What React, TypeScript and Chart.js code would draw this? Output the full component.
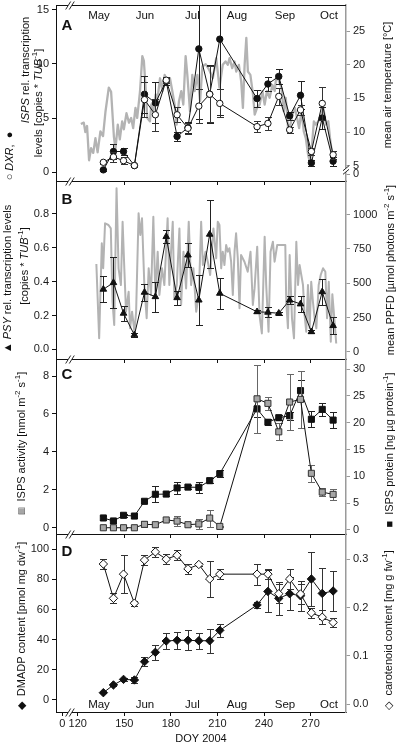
import React, { useEffect, useRef } from 'react';
import { Chart, registerables } from 'chart.js';

Chart.register(...registerables);

const FONT = '"Liberation Sans", Arial, Helvetica, sans-serif';
const INK = '#111111';
const GREY_AXIS = '#9a9a9a';
const GREY_LINE = '#b3b3b3';
const GREY_FILL = '#a6a6a6';

// ---------- x axis ----------
const X_MIN = 106;
const X_MAX = 292.8;
const X_ZERO = 110; // where the "0" label sits, before the axis break
const X_BREAK = 115;
const X_TICKS_FULL = [110, 120, 150, 180, 210, 240, 270];
const X_TICKS_INNER = [150, 180, 210, 240, 270];
const MONTHS = ['May', 'Jun', 'Jul', 'Aug', 'Sep', 'Oct'];
const MONTH_DOY = [133.7, 163.3, 193.9, 222.6, 253.5, 281.8];

// ---------- sampling days ----------
const SAMPLE_DOY = [136.5, 143, 149.5, 156.5, 163, 170, 177, 184, 191, 198, 205, 211.5, 235.5, 242.5, 249.5, 256.5, 263.5, 270.5, 277.5, 284.5];

// ---------- panel A ----------
const ISPS_TX = [0.2, 1.9, 1.9, 0.6, 7.2, 6.4, 8.4, 3.3, 4.1, 11.4, 7.2, 12.3, 6.8, 8.15, 8.85, 5.2, 7.1, 0.85, 5.0, 1.0];
const ISPS_TX_ERR = [0.1, 0.65, 0.3, 0.1, 1.7, 1.9, 0.3, 0.4, 0.5, 6.5, 2.7, 7.0, 0.8, 0.65, 0.7, 0.4, 1.3, 0.25, 1.0, 0.4];
const DXR_TX = [0.9, 1.4, 1.05, 0.6, 6.7, 5.3, 8.5, 5.3, 4.05, 6.1, 7.2, 6.35, 4.2, 4.5, 7.0, 3.9, 5.75, 1.9, 6.35, 1.6];
const DXR_TX_ERR = [0.15, 0.45, 0.3, 0.1, 1.6, 1.5, 0.25, 0.7, 0.5, 1.6, 2.6, 1.3, 0.5, 0.6, 0.8, 0.3, 0.5, 0.3, 1.5, 0.35];
const TEMP_DOY = [122, 123.9, 124.9, 126, 127.3, 128.6, 130, 131.4, 132.8, 134.6, 136.3, 137.9, 140, 141.5, 143.3, 144.3, 145.8, 147.1, 148.6, 149.7, 151.4, 153, 154.4, 155.7, 157.2, 158.3, 160.1, 161.6, 162.6, 163.7, 164.8, 166.5, 167.4, 168.7, 170.2, 171.3, 173, 174.5, 176, 177.7, 179.4, 180.9, 182.4, 183.7, 185.2, 186.7, 188, 189.5, 190.6, 192.3, 193.8, 195.3, 197.1, 198.8, 200.3, 202.4, 204.6, 207, 209.2, 211.3, 213.4, 215.2, 216.7, 217.8, 219.5, 221, 222.1, 223.8, 225.3, 226.4, 227.5, 228.6, 229.6, 231.2, 232.9, 234, 235.5, 237.2, 238.9, 240.4, 241.9, 243.6, 245.4, 246.9, 248, 249.7, 251.2, 252.7, 254, 255.5, 257, 258.3, 259.8, 261.3, 262.6, 264.1, 265.6, 266.9, 268.4, 269.5, 270.6, 272.1, 273.4, 274.9, 276.4, 278.2, 279.9, 281.4, 282.5, 283.6, 284.6];
const TEMP_C = [11.2, 11.4, 10.0, 10.9, 5.8, 7.6, 6.9, 9.1, 7.0, 10.1, 9.4, 13.1, 16.6, 16.0, 9.3, 7.5, 11.1, 8.9, 11.6, 10.4, 12.8, 11.4, 12.1, 10.6, 13.6, 12.1, 16.0, 21.3, 20.6, 16.6, 12.1, 11.6, 14.1, 13.1, 15.6, 14.8, 18.0, 16.1, 18.5, 17.5, 18.0, 16.1, 14.1, 11.1, 14.6, 16.1, 14.1, 21.3, 18.5, 13.1, 18.5, 16.1, 18.5, 14.6, 19.8, 20.1, 19.3, 18.0, 21.0, 16.6, 20.0, 20.5, 20.0, 21.0, 19.5, 20.5, 19.0, 20.0, 17.5, 13.6, 20.0, 24.0, 19.0, 18.5, 15.6, 12.6, 13.6, 14.1, 16.1, 14.1, 16.1, 15.1, 17.0, 16.1, 18.5, 17.5, 16.6, 13.1, 15.1, 10.6, 11.1, 12.6, 13.6, 12.1, 10.6, 13.1, 10.1, 9.1, 6.6, 5.6, 7.1, 11.6, 11.1, 11.6, 12.1, 13.6, 11.1, 11.6, 9.1, 7.1, 5.8];

// ---------- panel B ----------
const PSY_TX = [0.355, 0.394, 0.213, 0.085, 0.337, 0.311, 0.666, 0.305, 0.557, 0.291, 0.68, 0.331, 0.222, 0.219, 0.213, 0.291, 0.268, 0.104, 0.34, 0.14];
const PSY_TX_ERR = [0.078, 0.15, 0.044, 0.01, 0.05, 0.09, 0.04, 0.04, 0.07, 0.15, 0.2, 0.09, 0.01, 0.03, 0.01, 0.025, 0.05, 0.01, 0.075, 0.05];
const PPFD_DOY = [132, 133.8, 135.5, 136.4, 137.6, 139.8, 141.3, 142.4, 143.5, 145, 146.3, 147.8, 148.9, 150, 151.1, 152.8, 153.7, 155, 156.5, 157.6, 159.2, 160.3, 161.4, 162.9, 164.4, 165.7, 167.2, 168.7, 170, 171.5, 172.6, 174.3, 175.8, 177.9, 179, 180.1, 181.2, 182.2, 183.8, 185.5, 186.6, 188.1, 189.8, 191.5, 193, 194.5, 196.3, 198, 199.5, 200.6, 202.3, 203.8, 205.3, 207.4, 209.2, 210.2, 211.3, 212.4, 213.4, 214.5, 215.6, 216.7, 217.7, 218.8, 219.9, 221, 222, 223.1, 224.2, 225.2, 227.4, 229.5, 231.3, 232.8, 233.9, 235.6, 237.1, 238.6, 240.4, 241.4, 242.9, 244.2, 245.7, 246.8, 248.5, 250, 252.2, 253.7, 254.3, 255.4, 256.5, 258, 259.3, 260.8, 261.9, 262.9, 264, 265.1, 266.1, 267.2, 268.3, 269.4, 270.4, 271.5, 272.6, 273.7, 275.2, 276.5, 278, 279.5, 280.6, 281.7, 283, 284, 285.2, 286.5];
const PPFD = [640, 98, 791, 609, 937, 925, 900, 365, 195, 1193, 609, 487, 949, 609, 292, 438, 171, 292, 146, 292, 1010, 852, 974, 487, 244, 609, 414, 985, 414, 730, 414, 609, 487, 974, 487, 730, 949, 390, 487, 900, 341, 730, 462, 949, 487, 609, 292, 414, 949, 633, 730, 657, 560, 900, 682, 949, 925, 609, 730, 633, 779, 730, 755, 657, 414, 730, 864, 682, 317, 706, 657, 584, 730, 341, 462, 767, 268, 134, 839, 487, 146, 730, 803, 657, 779, 779, 779, 779, 365, 171, 706, 244, 98, 803, 487, 633, 560, 487, 268, 146, 487, 171, 511, 365, 244, 171, 487, 560, 609, 584, 244, 511, 73, 420, 255, 60];

// ---------- panel C ----------
const ISPS_ACT = [0, 0, 0, 0, 0.18, 0.16, 0.41, 0.35, 0.16, 0.2, 0.51, 0.07, 6.8, 6.56, 5.06, 6.63, 6.77, 2.87, 1.88, 1.76];
const ISPS_ACT_ERR = [0.03, 0.03, 0.03, 0.03, 0.15, 0.05, 0.05, 0.25, 0.05, 0.25, 0.45, 0.03, 1.78, 0.35, 0.45, 1.5, 1.5, 0.45, 0.2, 0.3];
const ISPS_PROT = [2.24, 1.68, 2.74, 2.6, 5.35, 6.66, 6.7, 7.84, 8.0, 7.95, 9.2, 10.5, 22.6, 20.1, 20.95, 21.3, 26.0, 20.65, 22.5, 20.5];
const ISPS_PROT_ERR = [0.3, 0.3, 0.3, 0.3, 0.4, 1.5, 0.3, 1.2, 0.3, 1.0, 0.5, 0.7, 1.5, 0.6, 0.5, 0.8, 2.0, 1.5, 1.2, 1.5];

// ---------- panel D ----------
const DMADP = [4.65, 9.8, 13.5, 13.1, 25.3, 31.5, 39, 39.5, 39.5, 39.2, 39.2, 46.1, 63, 72, 67.4, 70.5, 69.1, 80.3, 70.7, 72.3];
const DMADP_ERR = [0.5, 0.8, 1.0, 2.2, 3.1, 4.8, 5.6, 5.6, 6.6, 5.4, 8, 4.2, 1.8, 14, 11, 11, 10, 18, 17, 13];
const CAROT = [0.29, 0.219, 0.269, 0.209, 0.298, 0.315, 0.3, 0.308, 0.28, 0.289, 0.259, 0.269, 0.269, 0.269, 0.2285, 0.259, 0.228, 0.189, 0.18, 0.169];
const CAROT_ERR = [0.01, 0.01, 0.039, 0.005, 0.01, 0.01, 0.01, 0.01, 0.01, 0.003, 0.037, 0.01, 0.022, 0.01, 0.02, 0.02, 0.02, 0.01, 0.015, 0.01];

// ---------- axis ranges / ticks ----------
const A_LEFT = { min: -0.83, max: 15.46, ticks: [0, 5, 10, 15] };
const A_RIGHT = { min: 2.72, max: 28.9, ticks: [3.72, 5, 10, 15, 20, 25] };
const B_LEFT = { min: -0.057, max: 0.995, ticks: [0, 0.2, 0.4, 0.6, 0.8] };
const B_RIGHT = { min: -53, max: 1246, ticks: [0, 250, 500, 750, 1000] };
const C_LEFT = { min: -0.33, max: 8.9, ticks: [0, 2, 4, 6, 8] };
const C_RIGHT = { min: -0.75, max: 31.9, ticks: [0, 5, 10, 15, 20, 25, 30] };
const D_LEFT = { min: -8.2, max: 110.2, ticks: [0, 20, 40, 60, 80, 100] };
const D_RIGHT = { min: -0.016, max: 0.352, ticks: [0, 0.1, 0.2, 0.3] };

const W = 400;
const H = 744;
const LEFT_W = 56;
const RIGHT_W = 54;

type Seg = { t: string; it?: boolean; sup?: boolean; color?: string; outline?: string };

function richText(ctx: CanvasRenderingContext2D, segs: Seg[], cx: number, cy: number, size: number, vertical: boolean) {
  ctx.save();
  ctx.translate(cx, cy);
  if (vertical) ctx.rotate(-Math.PI / 2);
  ctx.textBaseline = 'middle';
  ctx.textAlign = 'left';
  const fontOf = (s: Seg) => `${s.it ? 'italic ' : ''}${s.sup ? Math.round(size * 0.75) : size}px ${FONT}`;
  const ws = segs.map((s) => {
    ctx.font = fontOf(s);
    return ctx.measureText(s.t).width;
  });
  const total = ws.reduce((a, b) => a + b, 0);
  let x = -total / 2;
  segs.forEach((s, i) => {
    ctx.font = fontOf(s);
    const y = s.sup ? -size * 0.38 : 0;
    ctx.fillStyle = s.color || INK;
    ctx.fillText(s.t, x, y);
    if (s.outline) {
      ctx.fillStyle = INK;
      ctx.fillText(s.outline, x, y);
    }
    x += ws[i];
  });
  ctx.restore();
}

function breakMark(ctx: CanvasRenderingContext2D, x: number, y: number, vertical = false) {
  ctx.save();
  ctx.fillStyle = '#ffffff';
  if (vertical) ctx.fillRect(x - 2, y - 2, 4, 4);
  else ctx.fillRect(x - 2, y - 1.5, 4, 3);
  ctx.strokeStyle = INK;
  ctx.lineWidth = 0.9;
  const offs = [-1.8, 1.8];
  offs.forEach((d) => {
    ctx.beginPath();
    if (vertical) {
      ctx.moveTo(x - 3, y + d + 2.5);
      ctx.lineTo(x + 3, y + d - 2.5);
    } else {
      ctx.moveTo(x + d - 2.5, y + 4);
      ctx.lineTo(x + d + 2.5, y - 4);
    }
    ctx.stroke();
  });
  ctx.restore();
}

function panelLetter(ctx: CanvasRenderingContext2D, letter: string, x: number, y: number) {
  ctx.save();
  ctx.font = `bold 15px ${FONT}`;
  ctx.fillStyle = INK;
  ctx.textAlign = 'center';
  ctx.textBaseline = 'middle';
  ctx.fillText(letter, x, y);
  ctx.restore();
}

function monthLabels(ctx: CanvasRenderingContext2D, chart: any, y: number) {
  const xs = chart.scales.x;
  ctx.save();
  ctx.font = `11.5px ${FONT}`;
  ctx.fillStyle = INK;
  ctx.textAlign = 'center';
  ctx.textBaseline = 'middle';
  MONTHS.forEach((m, i) => ctx.fillText(m, xs.getPixelForValue(MONTH_DOY[i]), y));
  ctx.restore();
}

const pts = (xs: number[], ys: number[]) => xs.map((x, i) => ({ x, y: ys[i] }));

const errorBarPlugin = {
  id: 'errorBars',
  beforeDatasetDraw(chart: any, args: any) {
    const ds = chart.data.datasets[args.index];
    if (!ds.errors) return;
    const meta = args.meta;
    const ys = chart.scales[meta.yAxisID];
    const xs = chart.scales[meta.xAxisID];
    const ctx = chart.ctx as CanvasRenderingContext2D;
    const a = chart.chartArea;
    ctx.save();
    ctx.beginPath();
    ctx.rect(a.left, a.top, a.right - a.left, a.bottom - a.top);
    ctx.clip();
    ctx.strokeStyle = ds.errorColor || '#333';
    ctx.lineWidth = 1;
    ds.data.forEach((p: any, k: number) => {
      const e = ds.errors[k];
      if (!e) return;
      const x = Math.round(xs.getPixelForValue(p.x)) + 0.5;
      const y1 = Math.round(ys.getPixelForValue(p.y + e)) + 0.5;
      const y2 = Math.round(ys.getPixelForValue(p.y - e)) + 0.5;
      ctx.beginPath();
      ctx.moveTo(x, y1);
      ctx.lineTo(x, y2);
      ctx.moveTo(x - 3.5, y1);
      ctx.lineTo(x + 3.5, y1);
      ctx.moveTo(x - 3.5, y2);
      ctx.lineTo(x + 3.5, y2);
      ctx.stroke();
    });
    ctx.restore();
  },
};

function xScale(labels: boolean) {
  return {
    type: 'linear',
    position: 'bottom',
    min: X_MIN,
    max: X_MAX,
    afterBuildTicks: (s: any) => {
      s.ticks = (labels ? X_TICKS_FULL : X_TICKS_INNER).map((v) => ({ value: v }));
    },
    afterFit: (s: any) => {
      s.height = labels ? 32 : 0;
      s.paddingLeft = 0;
      s.paddingRight = 0;
    },
    grid: { drawOnChartArea: false, drawTicks: true, tickLength: 4, color: INK, lineWidth: 1 },
    border: { display: true, color: INK, width: 1 },
    ticks: {
      display: labels,
      autoSkip: false,
      maxRotation: 0,
      padding: 1,
      color: '#1a1a1a',
      font: { family: FONT, size: 11 },
      callback: (v: number) => (v === X_ZERO ? '0' : String(v)),
    },
  };
}

function yScale(side: 'left' | 'right', r: { min: number; max: number; ticks: number[] }, fmt: (v: number) => string) {
  const left = side === 'left';
  return {
    type: 'linear',
    position: side,
    min: r.min,
    max: r.max,
    afterBuildTicks: (s: any) => {
      s.ticks = r.ticks.map((v) => ({ value: v }));
    },
    afterFit: (s: any) => {
      s.width = left ? LEFT_W : RIGHT_W;
      s.paddingTop = 0;
      s.paddingBottom = 0;
    },
    grid: { drawOnChartArea: false, drawTicks: true, tickLength: 4, color: left ? INK : GREY_AXIS, lineWidth: 1 },
    border: { display: true, color: left ? INK : GREY_AXIS, width: left ? 1 : 1.5 },
    ticks: {
      autoSkip: false,
      padding: 3,
      color: '#1a1a1a',
      font: { family: FONT, size: 11 },
      callback: (v: number) => fmt(v),
    },
  };
}

type PanelSpec = {
  top: number;
  bottom: number;
  xLabels: boolean;
  left: any;
  right: any;
  datasets: any[];
  decorate: (ctx: CanvasRenderingContext2D, chart: any) => void;
};

function buildConfig(p: PanelSpec): any {
  const xh = p.xLabels ? 32 : 0;
  return {
    type: 'line',
    data: { datasets: p.datasets },
    options: {
      responsive: false,
      maintainAspectRatio: false,
      devicePixelRatio: 1,
      animation: false,
      events: [],
      layout: { autoPadding: false, padding: { top: p.top, bottom: H - p.bottom - xh, left: 0, right: 0 } },
      plugins: { legend: { display: false }, tooltip: { enabled: false }, title: { display: false } },
      elements: { line: { tension: 0 } },
      scales: { x: xScale(p.xLabels), yL: p.left, yR: p.right },
    },
    plugins: [
      errorBarPlugin,
      { id: 'decor', afterDraw: (chart: any) => p.decorate(chart.ctx, chart) },
    ],
  };
}

const seriesStyle = (fill: string, style: string, radius: number, stroke = INK) => ({
  borderColor: INK,
  borderWidth: 1,
  pointStyle: style,
  pointRadius: radius,
  pointBackgroundColor: fill,
  pointBorderColor: stroke,
  pointBorderWidth: 1,
  fill: false,
});

const int = (v: number) => String(Math.round(v));
const one = (v: number) => v.toFixed(1);

const PANELS: PanelSpec[] = [
  {
    top: 5,
    bottom: 181,
    xLabels: false,
    left: yScale('left', A_LEFT, int),
    right: yScale('right', A_RIGHT, (v) => (v < 4.5 ? '0' : int(v))),
    datasets: [
      { label: 'DXR', data: pts(SAMPLE_DOY, DXR_TX), errors: DXR_TX_ERR, errorColor: '#333', yAxisID: 'yL', ...seriesStyle('#ffffff', 'circle', 3.2) },
      { label: 'ISPS', data: pts(SAMPLE_DOY, ISPS_TX), errors: ISPS_TX_ERR, errorColor: '#222', yAxisID: 'yL', ...seriesStyle(INK, 'circle', 3.2) },
      { label: 'temperature', data: pts(TEMP_DOY, TEMP_C), yAxisID: 'yR', borderColor: GREY_LINE, borderWidth: 2.3, borderJoinStyle: 'round', pointRadius: 0, fill: false },
    ],
    decorate: (ctx, chart) => {
      const a = chart.chartArea;
      const xs = chart.scales.x;
      ctx.save();
      ctx.strokeStyle = INK;
      ctx.lineWidth = 1;
      ctx.beginPath();
      ctx.moveTo(a.left, Math.round(a.top) + 0.5);
      ctx.lineTo(a.right, Math.round(a.top) + 0.5);
      ctx.stroke();
      ctx.restore();
      breakMark(ctx, xs.getPixelForValue(X_BREAK), Math.round(a.top) + 0.5);
      breakMark(ctx, xs.getPixelForValue(X_BREAK), Math.round(a.bottom) + 0.5);
      breakMark(ctx, a.right, chart.scales.yR.getPixelForValue(4.35), true);
      panelLetter(ctx, 'A', 67, 26);
      monthLabels(ctx, chart, 15.5);
      richText(ctx, [{ t: '○ ' }, { t: 'DXR', it: true }, { t: ',  ●' }], 10, 156, 11, true);
      richText(ctx, [{ t: 'ISPS', it: true }, { t: ' rel. transcription' }], 26, 70, 11, true);
      richText(ctx, [{ t: 'levels [copies * ' }, { t: 'TUB', it: true }, { t: '-1', sup: true }, { t: ']' }], 38.5, 103, 11, true);
      richText(ctx, [{ t: 'mean air temperature [°C]' }], 388, 85, 11, true);
    },
  },
  {
    top: 181,
    bottom: 359,
    xLabels: false,
    left: yScale('left', B_LEFT, one),
    right: yScale('right', B_RIGHT, int),
    datasets: [
      { label: 'PSY', data: pts(SAMPLE_DOY, PSY_TX), errors: PSY_TX_ERR, errorColor: '#222', yAxisID: 'yL', ...seriesStyle(INK, 'triangle', 3.8) },
      { label: 'PPFD', data: pts(PPFD_DOY, PPFD), yAxisID: 'yR', borderColor: GREY_LINE, borderWidth: 2, borderJoinStyle: 'round', pointRadius: 0, fill: false },
    ],
    decorate: (ctx, chart) => {
      const a = chart.chartArea;
      const xs = chart.scales.x;
      breakMark(ctx, xs.getPixelForValue(X_BREAK), Math.round(a.bottom) + 0.5);
      panelLetter(ctx, 'B', 67, 200);
      richText(ctx, [{ t: '▲ ' }, { t: 'PSY', it: true }, { t: ' rel. transcription levels' }], 8, 279, 11, true);
      richText(ctx, [{ t: '[copies * ' }, { t: 'TUB', it: true }, { t: '-1', sup: true }, { t: ']' }], 25, 266, 11, true);
      richText(ctx, [{ t: 'mean PPFD [µmol photons m' }, { t: '-2', sup: true }, { t: ' s' }, { t: '-1', sup: true }, { t: ']' }], 391, 270, 11, true);
    },
  },
  {
    top: 359,
    bottom: 534,
    xLabels: false,
    left: yScale('left', C_LEFT, int),
    right: yScale('right', C_RIGHT, int),
    datasets: [
      { label: 'ISPS activity', data: pts(SAMPLE_DOY, ISPS_ACT), errors: ISPS_ACT_ERR, errorColor: '#666', yAxisID: 'yL', ...seriesStyle(GREY_FILL, 'rect', 4.3, '#333') },
      { label: 'ISPS protein', data: pts(SAMPLE_DOY, ISPS_PROT), errors: ISPS_PROT_ERR, errorColor: '#222', yAxisID: 'yR', ...seriesStyle(INK, 'rect', 4.3) },
    ],
    decorate: (ctx, chart) => {
      const a = chart.chartArea;
      const xs = chart.scales.x;
      breakMark(ctx, xs.getPixelForValue(X_BREAK), Math.round(a.bottom) + 0.5);
      panelLetter(ctx, 'C', 67, 375);
      richText(ctx, [{ t: '■', color: GREY_FILL, outline: '□' }, { t: '  ISPS activity [nmol m' }, { t: '-2', sup: true }, { t: ' s' }, { t: '-1', sup: true }, { t: ']' }], 22, 443, 11, true);
      richText(ctx, [{ t: '■  ' }, { t: 'ISPS protein [ng µg protein' }, { t: '-1', sup: true }, { t: ']' }], 390, 450, 11, true);
    },
  },
  {
    top: 534,
    bottom: 712,
    xLabels: true,
    left: yScale('left', D_LEFT, int),
    right: yScale('right', D_RIGHT, one),
    datasets: [
      { label: 'carotenoids', data: pts(SAMPLE_DOY, CAROT), errors: CAROT_ERR, errorColor: '#333', yAxisID: 'yR', ...seriesStyle('#ffffff', 'rectRot', 4.2) },
      { label: 'DMADP', data: pts(SAMPLE_DOY, DMADP), errors: DMADP_ERR, errorColor: '#333', yAxisID: 'yL', ...seriesStyle(INK, 'rectRot', 4.2) },
    ],
    decorate: (ctx, chart) => {
      const a = chart.chartArea;
      const xs = chart.scales.x;
      breakMark(ctx, xs.getPixelForValue(X_BREAK), Math.round(a.bottom) + 0.5);
      panelLetter(ctx, 'D', 67, 552);
      monthLabels(ctx, chart, 704.5);
      richText(ctx, [{ t: '◆  ' }, { t: 'DMADP content [pmol mg dw' }, { t: '-1', sup: true }, { t: ']' }], 22, 626, 11, true);
      richText(ctx, [{ t: '◇  ' }, { t: 'carotenoid content [mg g fw' }, { t: '-1', sup: true }, { t: ']' }], 389, 630, 11, true);
      richText(ctx, [{ t: 'DOY 2004' }], 201, 739, 11, false);
    },
  },
];

function Panel({ spec }: { spec: PanelSpec }) {
  const ref = useRef<HTMLCanvasElement | null>(null);
  useEffect(() => {
    if (!ref.current) return;
    const chart = new Chart(ref.current, buildConfig(spec));
    return () => chart.destroy();
  }, [spec]);
  return (
    <canvas
      ref={ref}
      width={W}
      height={H}
      style={{ position: 'absolute', left: 0, top: 0, width: W, height: H }}
    />
  );
}

export default function App() {
  return (
    <div style={{ position: 'absolute', left: 0, top: 0, width: W, height: H, background: '#ffffff' }}>
      {PANELS.map((p, i) => (
        <Panel key={i} spec={p} />
      ))}
    </div>
  );
}
